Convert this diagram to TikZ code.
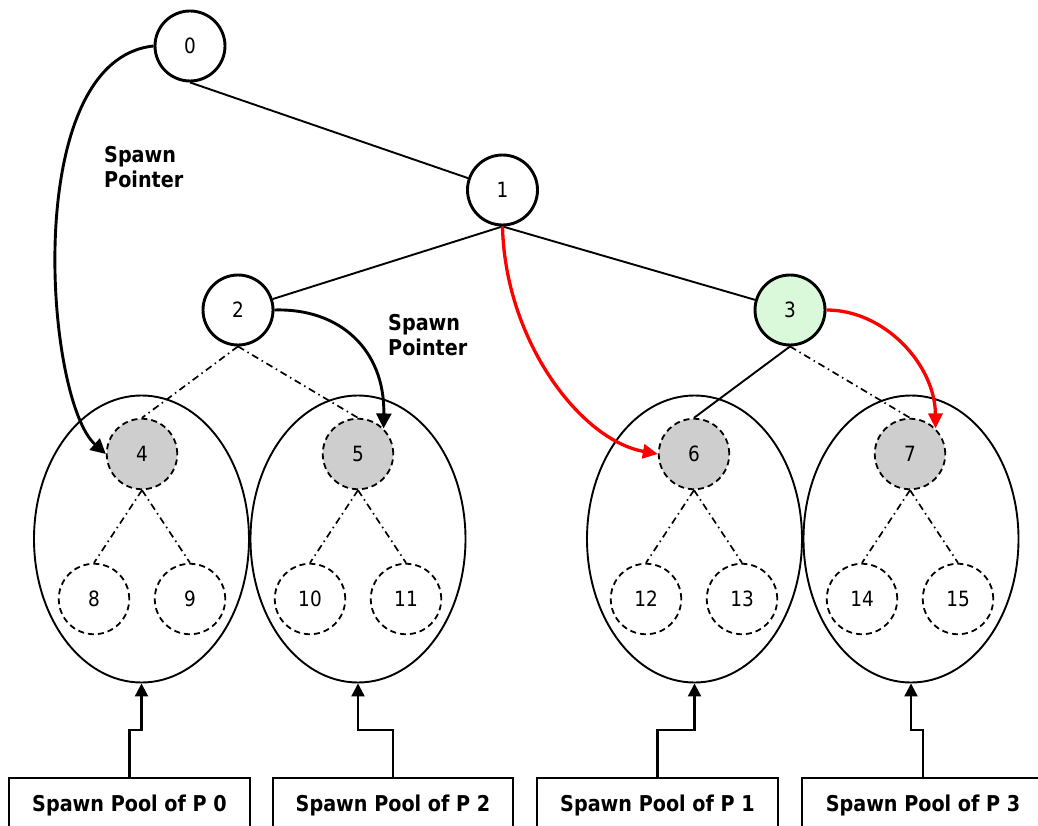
\documentclass[tikz,border=0pt]{standalone}
\usepackage{fontspec}
\setmainfont{DejaVu Sans}[FakeStretch=0.88]
\usetikzlibrary{arrows.meta,calc,shapes.geometric}

\definecolor{leafgray}{RGB}{206,206,206}
\definecolor{activegreen}{RGB}{218,248,218}
\definecolor{spawnred}{RGB}{255,0,0}

\tikzset{
  numfont/.style={font=\fontsize{21}{24}\selectfont},
  labelfont/.style={font=\bfseries\fontsize{21.8}{25}\selectfont},
  tasknode/.style={circle, draw, line width=2.9pt, minimum size=70pt, inner sep=0pt, numfont},
  spawnednode/.style={circle, draw, dash pattern=on 6pt off 4pt, line width=1.8pt,
    fill=leafgray, minimum size=70.5pt, inner sep=0pt, numfont},
  leafnode/.style={circle, draw, dash pattern=on 6pt off 4pt, line width=1.8pt,
    minimum size=70.5pt, inner sep=0pt, numfont},
  poolshape/.style={ellipse, draw, line width=1.9pt, minimum width=215pt,
    minimum height=287pt, inner sep=0pt},
  poolbox/.style={draw, line width=2.2pt, minimum height=54pt, inner sep=0pt, labelfont},
  treeedge/.style={line width=1.9pt},
  spawnedge/.style={line width=1.7pt, dash pattern=on 7pt off 4pt on 1.5pt off 4pt},
  pointer/.style={line width=2.9pt, -{Triangle[length=15pt,width=15pt]}},
  redpointer/.style={line width=3.3pt, spawnred, -{Triangle[length=15pt,width=14pt]}},
  poolarrow/.style={line width=2.2pt, -{Triangle[length=13pt,width=13pt]}},
  pointerlabel/.style={labelfont, align=left, inner sep=0pt, anchor=north west}
}

\begin{document}
\begin{tikzpicture}[x=1pt,y=-1pt]
\useasboundingbox (0,0) rectangle (1038,826);
\clip (0,0) rectangle (1038,826);

% spawn pools of the four processors
\node[poolshape] (e1) at (141.5,539) {};
\node[poolshape] (e2) at (358,539) {};
\node[poolshape] (e3) at (694.5,539) {};
\node[poolshape] (e4) at (911,539) {};

% task tree
\node[tasknode] (n0) at (190,46) {0};
\node[tasknode] (n1) at (502.5,190) {1};
\node[tasknode] (n2) at (238,310) {2};
\node[tasknode, fill=activegreen] (n3) at (790,310) {3};

\node[spawnednode] (n4) at (142,454) {4};
\node[spawnednode] (n5) at (358,454) {5};
\node[spawnednode] (n6) at (694,454) {6};
\node[spawnednode] (n7) at (910,454) {7};

\node[leafnode] (n8)  at (94,599)  {8};
\node[leafnode] (n9)  at (190,599) {9};
\node[leafnode] (n10) at (310,599) {10};
\node[leafnode] (n11) at (406,599) {11};
\node[leafnode] (n12) at (646,599) {12};
\node[leafnode] (n13) at (742,599) {13};
\node[leafnode] (n14) at (862,599) {14};
\node[leafnode] (n15) at (958,599) {15};

% solid tree edges
\draw[treeedge] (n0.south) -- (n1);
\draw[treeedge] (n1.south) -- (n2);
\draw[treeedge] (n1.south) -- (n3);
\draw[treeedge] (n3.south) -- (n6.north);

% spawned (not yet executed) edges
\draw[spawnedge] (n2.south) -- (n4.north);
\draw[spawnedge] (n2.south) -- (n5.north);
\draw[spawnedge] (n3.south) -- (n7.north);
\draw[spawnedge] (n4.south) -- (n8.north);
\draw[spawnedge] (n4.south) -- (n9.north);
\draw[spawnedge] (n5.south) -- (n10.north);
\draw[spawnedge] (n5.south) -- (n11.north);
\draw[spawnedge] (n6.south) -- (n12.north);
\draw[spawnedge] (n6.south) -- (n13.north);
\draw[spawnedge] (n7.south) -- (n14.north);
\draw[spawnedge] (n7.south) -- (n15.north);

% spawn pointers
\draw[pointer] (n0.west) .. controls (20,60) and (45,400) .. (n4.west);
\draw[pointer] (n2.east) .. controls (340,308) and (385,350) .. (n5.45);
\draw[redpointer] (n1.south) .. controls (505,340) and (580,440) .. (n6.west);
\draw[redpointer] (n3.east) .. controls (885,310) and (935,365) .. (n7.45);

\node[pointerlabel] (sp1) at (104,146) {Spawn\\Pointer};
\node[pointerlabel] (sp2) at (388,314) {Spawn\\Pointer};

% spawn pool boxes
\node[poolbox, minimum width=241pt] (p0) at (129.5,805) {Spawn Pool of P 0};
\node[poolbox, minimum width=240pt] (p2) at (393,805) {Spawn Pool of P 2};
\node[poolbox, minimum width=241pt] (p1) at (657.5,805) {Spawn Pool of P 1};
\node[poolbox, minimum width=242pt] (p3) at (923,805) {Spawn Pool of P 3};

\draw[poolarrow] (p0.north) |- ($(p0.north)!0.5!(e1.south)$) -| (e1.south);
\draw[poolarrow] (p2.north) |- ($(p2.north)!0.5!(e2.south)$) -| (e2.south);
\draw[poolarrow] (p1.north) |- ($(p1.north)!0.5!(e3.south)$) -| (e3.south);
\draw[poolarrow] (p3.north) |- ($(p3.north)!0.5!(e4.south)$) -| (e4.south);
\end{tikzpicture}
\end{document}
